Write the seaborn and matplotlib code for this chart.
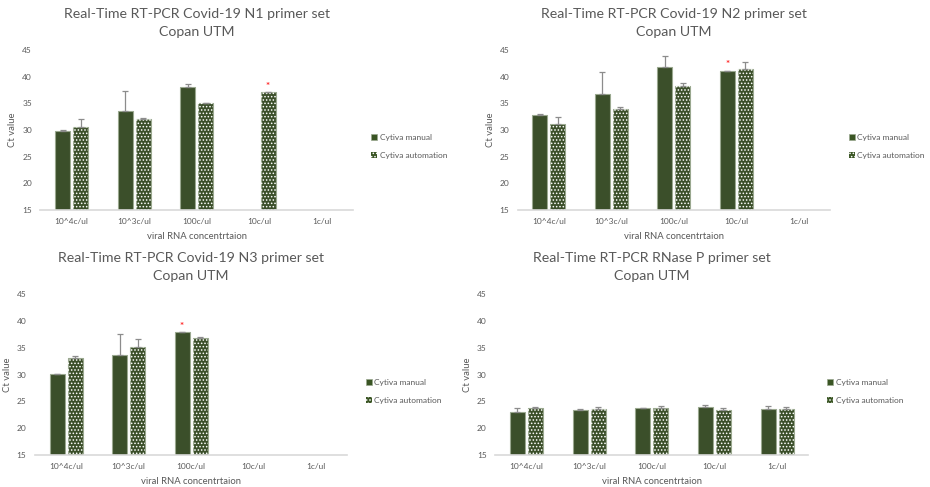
import numpy as np
import pandas as pd
import seaborn as sns
import matplotlib.pyplot as plt
from matplotlib.patches import Rectangle, Patch

# ---- data -------------------------------------------------------------
concentrations = ["10^4c/ul", "10^3c/ul", "100c/ul", "10c/ul", "1c/ul"]
methods = ["Cytiva manual", "Cytiva automation"]

titles = [
    "Real-Time RT-PCR Covid-19 N1 primer set\nCopan UTM",
    "Real-Time RT-PCR Covid-19 N2 primer set\nCopan UTM",
    "Real-Time RT-PCR Covid-19 N3 primer set\nCopan UTM",
    "Real-Time RT-PCR RNase P primer set\nCopan UTM",
]

n1_manual = [29.9, 33.5, 38.1, np.nan, np.nan]
n1_manual_err = [0.05, 3.9, 0.6, np.nan, np.nan]
n1_auto = [30.5, 32.1, 35.1, 37.1, np.nan]
n1_auto_err = [1.6, 0.1, 0.05, 0.05, np.nan]

n2_manual = [32.9, 36.8, 41.8, 41.1, np.nan]
n2_manual_err = [0.05, 4.1, 2.0, 0.05, np.nan]
n2_auto = [31.1, 34.0, 38.2, 41.4, np.nan]
n2_auto_err = [1.4, 0.25, 0.55, 1.3, np.nan]

n3_manual = [30.1, 33.6, 37.9, np.nan, np.nan]
n3_manual_err = [0.05, 4.0, 0.1, np.nan, np.nan]
n3_auto = [33.2, 35.2, 36.9, np.nan, np.nan]
n3_auto_err = [0.25, 1.4, 0.15, np.nan, np.nan]

rp_manual = [23.1, 23.4, 23.75, 23.9, 23.6]
rp_manual_err = [0.6, 0.15, 0.1, 0.4, 0.5]
rp_auto = [23.8, 23.6, 23.75, 23.4, 23.6]
rp_auto_err = [0.15, 0.3, 0.35, 0.35, 0.4]

# bar that carries the red significance asterisk in each panel
star_marks = [("10c/ul", "Cytiva automation"),
              ("10c/ul", "Cytiva manual"),
              ("100c/ul", "Cytiva manual"),
              None]

panels = [
    (n1_manual, n1_manual_err, n1_auto, n1_auto_err),
    (n2_manual, n2_manual_err, n2_auto, n2_auto_err),
    (n3_manual, n3_manual_err, n3_auto, n3_auto_err),
    (rp_manual, rp_manual_err, rp_auto, rp_auto_err),
]

# ---- style ------------------------------------------------------------
sns.set_theme(style="white")
plt.rcParams["font.family"] = ["Lato", "DejaVu Sans"]
plt.rcParams["hatch.linewidth"] = 0.7

GREEN = "#3a5524"
EDGE = "#9aa88f"
TEXT = "#595959"
AXIS = "#d9d9d9"
HATCH = "....."

fig = plt.figure(figsize=(9.3, 4.87), dpi=100)

# axes rectangles in figure fraction
rects = [
    (0.0433, 0.5688, 0.3360, 0.3285),
    (0.5567, 0.5688, 0.3360, 0.3285),
    (0.0374, 0.0657, 0.3360, 0.3300),
    (0.5323, 0.0657, 0.3370, 0.3300),
]

for idx, (rect, title, vals) in enumerate(zip(rects, titles, panels)):
    manual, manual_err, auto, auto_err = vals
    ax = fig.add_axes(rect)
    df = pd.DataFrame({
        "concentration": concentrations * 2,
        "ct": list(manual) + list(auto),
        "method": [methods[0]] * 5 + [methods[1]] * 5,
    })
    errs = {methods[0]: manual_err, methods[1]: auto_err}

    sns.barplot(data=df, x="concentration", y="ct", hue="method",
                order=concentrations, hue_order=methods,
                palette=[GREEN, GREEN], width=0.576, gap=0.167,
                errorbar=None, legend=False, ax=ax,
                edgecolor=EDGE, linewidth=0.8)

    for method, container in zip(methods, ax.containers):
        for bar in container:
            h = bar.get_height()
            if not np.isfinite(h):
                continue
            cx = bar.get_x() + bar.get_width() / 2
            cat = int(round(cx))
            if method == methods[1]:
                ax.add_patch(Rectangle((bar.get_x(), bar.get_y()),
                                       bar.get_width(), h, fill=False,
                                       hatch=HATCH, edgecolor="white",
                                       linewidth=0, zorder=bar.get_zorder() + 0.1))
            e = errs[method][cat]
            ax.errorbar(cx, h, yerr=[[0], [e]], fmt="none", ecolor="#8c8c8c",
                        elinewidth=0.9, capsize=2.2, capthick=0.9, zorder=4)
            mark = star_marks[idx]
            if mark is not None and mark == (concentrations[cat], method):
                ax.text(cx, h + 1.1, "*", color="#ff2a2a", ha="center",
                        va="center", fontsize=7, fontweight="bold")

    ax.set_ylim(15, 45)
    ax.set_yticks(range(15, 46, 5))
    ax.set_xlim(-0.5, 4.5)
    for s in ("top", "right", "left"):
        ax.spines[s].set_visible(False)
    ax.spines["bottom"].set_color(AXIS)
    ax.spines["bottom"].set_linewidth(1.2)
    ax.tick_params(axis="both", length=0, labelsize=6, labelcolor=TEXT)
    ax.tick_params(axis="y", pad=6)
    ax.tick_params(axis="x", pad=6)
    ax.set_xlabel("viral RNA concentrtaion", fontsize=6.8, color=TEXT, labelpad=5)
    ax.set_ylabel("Ct value", fontsize=6.8, color=TEXT, labelpad=3.5)
    ax.set_title(title, fontsize=10.2, color=TEXT, pad=10, linespacing=1.6)

    handles = [
        Patch(facecolor=GREEN, edgecolor=EDGE, linewidth=0.5),
        Patch(facecolor=GREEN, edgecolor="white", hatch=HATCH, linewidth=0),
    ]
    leg = ax.legend(handles, methods, loc="center left",
                    bbox_to_anchor=(1.035, 0.397), frameon=False,
                    fontsize=6, handlelength=0.75, handleheight=0.75,
                    handletextpad=0.3, labelspacing=1.35)
    for t in leg.get_texts():
        t.set_color(TEXT)

fig.savefig("out.png", dpi=100)
